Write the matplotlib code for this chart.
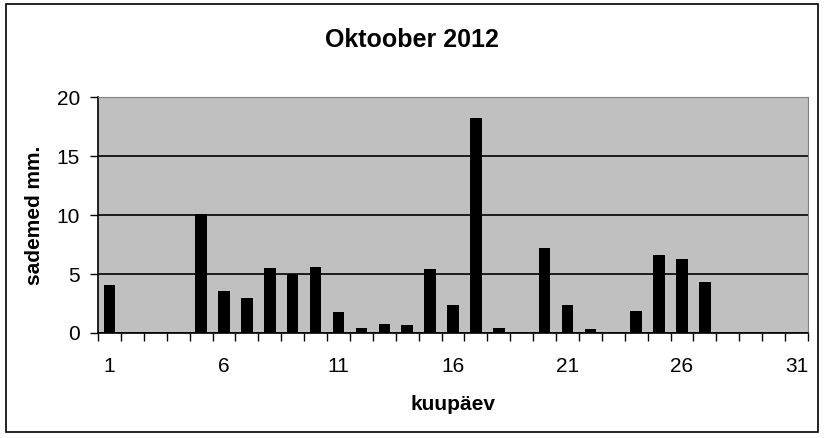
import numpy as np
import matplotlib.pyplot as plt
from matplotlib.patches import Rectangle

plt.rcParams['font.family'] = ['Liberation Sans', 'DejaVu Sans']

# daily precipitation, October 2012
days = np.arange(1, 32)
rain = [4.1, 0, 0, 0, 10.1, 3.6, 3.0, 5.5, 5.0, 5.6,
        1.8, 0.45, 0.8, 0.7, 5.4, 2.4, 18.25, 0.45, 0, 7.2,
        2.4, 0.37, 0, 1.9, 6.6, 6.3, 4.35, 0, 0, 0, 0]
tick_days = [1, 6, 11, 16, 21, 26, 31]

fig = plt.figure(figsize=(8.24, 4.38), dpi=100)
ax = fig.add_axes([98/824, 1-333/438, 710/824, 236/438])
ax.set_facecolor('#C0C0C0')

ax.bar(days, rain, width=0.5, color='black', zorder=3)

ax.set_xlim(0.5, 31.5)
ax.set_ylim(0, 20)
ax.set_yticks([0, 5, 10, 15, 20])
ax.yaxis.grid(True, color='black', linewidth=1.2, zorder=1)
ax.set_axisbelow(True)

# ticks at category boundaries, labels at day centres
ax.set_xticks(np.arange(0.5, 32, 1))
ax.set_xticklabels([])
ax.set_xticks(tick_days, minor=True)
ax.set_xticklabels([str(d) for d in tick_days], minor=True)
ax.tick_params(axis='x', which='major', direction='out', length=6, width=1)
ax.tick_params(axis='x', which='minor', length=0, pad=17, labelsize=15)
ax.tick_params(axis='y', direction='out', length=6, width=1, pad=7,
               labelsize=15)

for s in ['top', 'right']:
    ax.spines[s].set_color('#808080')
for s in ['left', 'bottom']:
    ax.spines[s].set_color('black')
    ax.spines[s].set_linewidth(1.2)

fig.text(0.5, 1-40/438, 'Oktoober 2012', ha='center', va='center',
         fontsize=18, fontweight='bold')
fig.text(35/824, 1-215/438, 'sademed mm.', ha='center', va='center',
         rotation=90, fontsize=15, fontweight='bold')
fig.text(453/824, 1-405/438, 'kuupäev', ha='center', va='center',
         fontsize=15, fontweight='bold')

fig.patches.append(Rectangle((6/824, 1-432/438), 812/824, 428/438,
                             transform=fig.transFigure, fill=False,
                             edgecolor='black', linewidth=1.2))

fig.savefig('out.png', dpi=100)
